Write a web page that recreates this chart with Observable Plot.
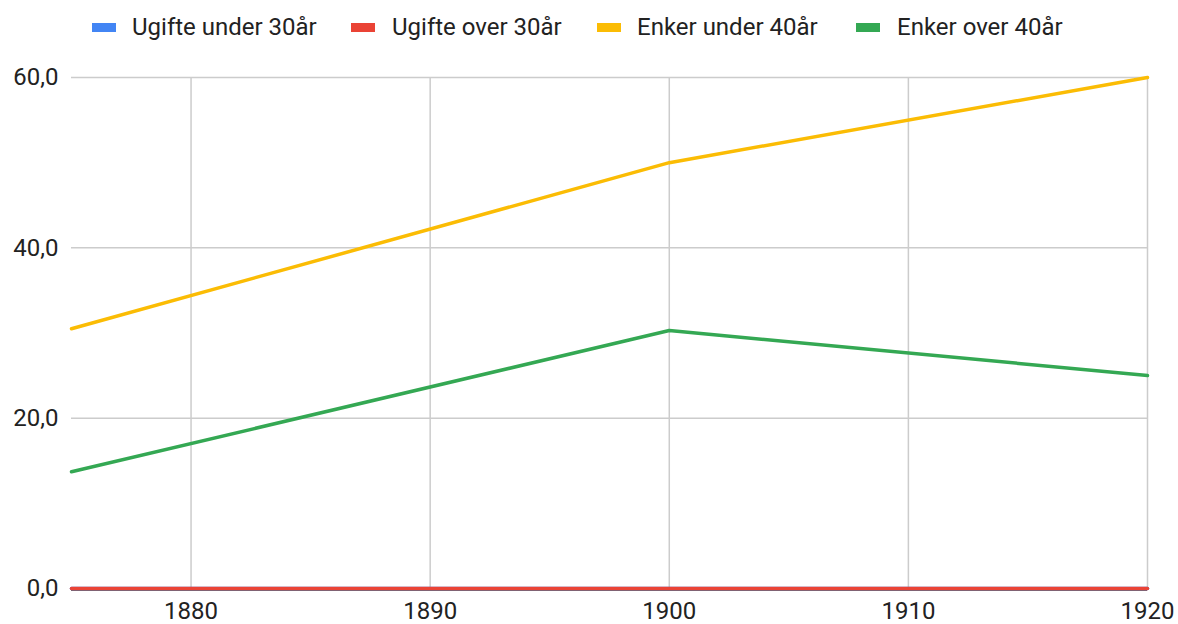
<!DOCTYPE html>
<html>
<head>
<meta charset="utf-8">
<script src="https://cdn.jsdelivr.net/npm/d3@7"></script>
<script src="https://cdn.jsdelivr.net/npm/@observablehq/plot@0.6"></script>
<style>
  html, body { margin: 0; padding: 0; background: #fff; }
  body { width: 1178px; height: 624px; overflow: hidden; font-family: Roboto, Arial, sans-serif; }
  #legend { position: relative; height: 60px; }
  .sw { position: absolute; top: 23px; width: 24px; height: 9px; }
  .txt { position: absolute; top: 13px; font-size: 24px; line-height: 28px; color: #222; white-space: nowrap; }
</style>
</head>
<body>
<div id="legend"></div>
<div id="chart"></div>
<script>
const years = [1875, 1900, 1920];
const seriesNames = ["Ugifte under 30år", "Ugifte over 30år", "Enker under 40år", "Enker over 40år"];
const ugifteUnder30 = [0, 0, 0];
const ugifteOver30 = [0, 0, 0];
const enkerUnder40 = [30.5, 50.0, 60.0];
const enkerOver40 = [13.7, 30.3, 25.0];
const colors = ["#4285F4", "#EA4335", "#FBBC04", "#34A853"];
const xTicks = [1880, 1890, 1900, 1910, 1920];
const yTicks = [0, 20, 40, 60];

const allValues = [ugifteUnder30, ugifteOver30, enkerUnder40, enkerOver40];
const data = [];
seriesNames.forEach((s, i) => years.forEach((y, j) => data.push({series: s, year: y, value: allValues[i][j]})));

// legend (HTML, above the SVG)
const swatchX = [92, 351, 597, 856];
const textX = [132, 392, 637, 897];
const legend = document.getElementById("legend");
seriesNames.forEach((s, i) => {
  const sw = document.createElement("div");
  sw.className = "sw";
  sw.style.left = swatchX[i] + "px";
  sw.style.background = colors[i];
  legend.appendChild(sw);
  const t = document.createElement("div");
  t.className = "txt";
  t.style.left = textX[i] + "px";
  t.textContent = s;
  legend.appendChild(t);
});

const fmtY = d => d.toFixed(1).replace(".", ",");
const chart = Plot.plot({
  width: 1178,
  height: 564,
  marginTop: 17,
  marginBottom: 36,
  marginLeft: 71,
  marginRight: 31,
  style: {fontFamily: "Roboto, Arial, sans-serif", fontSize: "24px", color: "#222", background: "#fff", overflow: "visible"},
  x: {domain: [1875, 1920], label: null},
  y: {domain: [0, 60], label: null},
  color: {domain: seriesNames, range: colors},
  marks: [
    Plot.gridX(xTicks, {stroke: "#cccccc", strokeOpacity: 1, strokeWidth: 1.5}),
    Plot.gridY(yTicks.filter(v => v > 0), {stroke: "#cccccc", strokeOpacity: 1, strokeWidth: 1.5}),
    Plot.axisX({ticks: xTicks, tickFormat: d => String(d), tickSize: 0, tickPadding: 13, fontSize: 24, fill: "#222"}),
    Plot.axisY({ticks: yTicks, tickFormat: fmtY, tickSize: 0, tickPadding: 13, fontSize: 24, fill: "#222"}),
    Plot.ruleY([0], {stroke: "#333", strokeWidth: 1.5, dy: 1.5}),
    Plot.line(data, {x: "year", y: "value", z: "series", stroke: "series", strokeWidth: 3.5})
  ]
});
document.getElementById("chart").appendChild(chart);
</script>
</body>
</html>
